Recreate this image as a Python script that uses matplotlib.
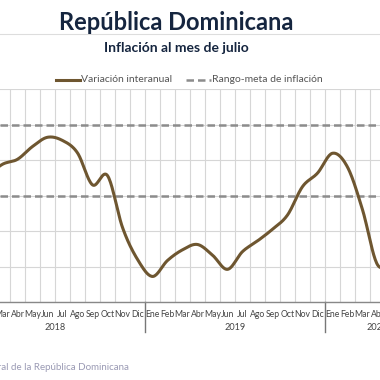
import numpy as np
import matplotlib
matplotlib.use("Agg")
import matplotlib.pyplot as plt

# monthly year-on-year inflation (%), Feb 2018 .. May 2020
months = ["Ene", "Feb", "Mar", "Abr", "May", "Jun", "Jul", "Ago", "Sep", "Oct", "Nov", "Dic"]
years = ["2018", "2019", "2020"]
year_months = [12, 12, 7]  # 2020 runs to julio
inflation = [3.55, 3.88, 4.02, 4.38, 4.64, 4.55, 4.20, 3.30, 3.56, 2.10, 1.20,   # Feb-Dic 2018
             0.72, 1.17, 1.47, 1.62, 1.32, 0.92, 1.42, 1.72, 2.05, 2.45, 3.25, 3.63,  # 2019
             4.19, 3.80, 2.60, 1.05, 1.20]  # Ene-May 2020
first_month = 1  # Feb 2018
target_low, target_high = 3, 5

LINE = "#6e5630"
NAVY = "#15253f"


def smooth(x, y, n=20):
    # Catmull-Rom curve through the points, like Excel's smoothed line
    x = np.asarray(x, float)
    y = np.asarray(y, float)
    px = np.concatenate([[2 * x[0] - x[1]], x, [2 * x[-1] - x[-2]]])
    py = np.concatenate([[2 * y[0] - y[1]], y, [2 * y[-1] - y[-2]]])
    t = np.linspace(0, 1, n, endpoint=False)
    xs, ys = [], []
    for i in range(1, len(px) - 2):
        for p, out in ((px, xs), (py, ys)):
            p0, p1, p2, p3 = p[i - 1], p[i], p[i + 1], p[i + 2]
            out.extend(0.5 * (2 * p1 + (-p0 + p2) * t + (2 * p0 - 5 * p1 + 4 * p2 - p3) * t ** 2
                              + (-p0 + 3 * p1 - 3 * p2 + p3) * t ** 3))
    xs.append(x[-1])
    ys.append(y[-1])
    return xs, ys


fig = plt.figure(figsize=(3.8, 3.8), dpi=100)
plt.rcParams['font.family'] = ['Lato', 'DejaVu Sans']

ax = fig.add_axes([0, 78 / 380, 1, 213 / 380])

x = np.arange(first_month, first_month + len(inflation))
sx, sy = smooth(x, inflation)
ax.plot(sx, sy, color=LINE, lw=2.2, zorder=4, solid_capstyle="round")
ax.axhline(target_high, color="#8c8c8c", lw=1.8, ls=(0, (3, 1.6)), zorder=3)
ax.axhline(target_low, color="#8c8c8c", lw=1.8, ls=(0, (3, 1.6)), zorder=3)

labels = [m for n in year_months for m in months[:n]]
n_months = len(labels)
ax.set_xticks(np.arange(n_months))
ax.set_xticklabels(labels, fontsize=6.2, color="#444444")
ax.set_xticks(np.arange(n_months) - 0.5, minor=True)
ax.set_yticks(range(0, 7))
ax.set_xlim(27.5 / 15, 407.5 / 15)
ax.set_ylim(0, 6)
ax.tick_params(axis="both", which="both", length=0)
ax.tick_params(axis="x", pad=5.5)
ax.set_yticklabels([])
ax.grid(True, which="minor", axis="x", color="#d6d6d6", lw=0.8)
ax.grid(True, which="major", axis="y", color="#d6d6d6", lw=0.8)
for s in ["top", "left", "right"]:
    ax.spines[s].set_visible(False)
ax.spines["bottom"].set_color("#888888")
ax.spines["bottom"].set_linewidth(1.0)

start = 0
for yr, n in zip(years, year_months):
    ax.text(start + (n - 1) / 2, -0.72, yr, ha="center", va="center", fontsize=6.6, color="#444444")
    if start > 0:
        ax.plot([start - 0.5] * 2, [0, -0.85], color="#777777", lw=1.0, clip_on=False)
    start += n

# title block
fig.text(176 / 380, 1 - 22 / 380, "República Dominicana", ha="center", va="center",
         fontsize=17, fontweight="bold", color=NAVY)
fig.add_artist(plt.Line2D([0, 1], [1 - 34 / 380] * 2, color="#dddddd", lw=0.8))
fig.text(176 / 380, 1 - 48 / 380, "Inflación al mes de julio", ha="center", va="center",
         fontsize=10, fontweight="bold", color=NAVY)

# legend
ly = 1 - 80 / 380
fig.add_artist(plt.Line2D([56 / 380, 80 / 380], [ly, ly], color=LINE, lw=2.2))
fig.text(81 / 380, ly, "Variación interanual", va="center", fontsize=7.5, color="#555555")
fig.add_artist(plt.Line2D([186 / 380, 211 / 380], [ly, ly], color="#8c8c8c", lw=1.8,
                          ls=(0, (3, 1.6))))
fig.text(212 / 380, ly, "Rango-meta de inflación", va="center", fontsize=7.5, color="#555555")

fig.text(129 / 380, 1 - 368 / 380, "Fuente: Banco Central de la República Dominicana",
         ha="right", va="center", fontsize=7, color="#9a9ab4")

fig.savefig("out.png", dpi=100)
